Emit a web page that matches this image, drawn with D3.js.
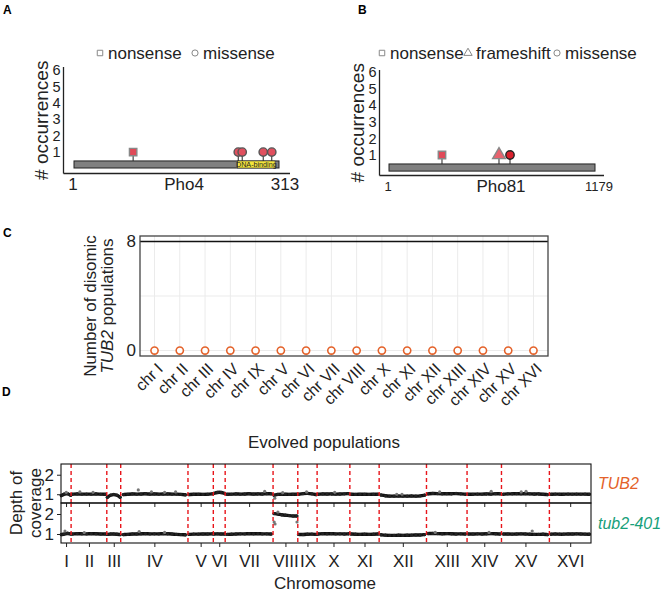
<!DOCTYPE html>
<html><head><meta charset="utf-8">
<script src="https://cdn.jsdelivr.net/npm/d3@7"></script>
<style>
html,body{margin:0;padding:0;background:#fff;}
svg{display:block;font-family:"Liberation Sans",Arial,Helvetica,sans-serif;}
</style></head>
<body>
<svg id="fig" width="664" height="604"></svg>
<script>
// ---------- Panel A data (Pho4) ----------
const pho4Length = 313;
const pho4Domain = [250, 307];           // DNA-binding domain
const pho4MutPos = [91, 251, 257, 289, 302];
const pho4MutType = ["nonsense", "missense", "missense", "missense", "missense"];
const pho4MutCount = [1, 1, 1, 1, 1];
const legendA = ["nonsense", "missense"];

// ---------- Panel B data (Pho81) ----------
const pho81Length = 1179;
const pho81MutPos = [304, 630, 693];
const pho81MutType = ["nonsense", "frameshift", "missense"];
const pho81MutCount = [1, 1, 1];
const legendB = ["nonsense", "frameshift", "missense"];

const occTicks = [1, 2, 3, 4, 5, 6];

// ---------- Panel C data ----------
const chrC = ["chr I","chr II","chr III","chr IV","chr IX","chr V","chr VI","chr VII",
              "chr VIII","chr X","chr XI","chr XII","chr XIII","chr XIV","chr XV","chr XVI"];
const disomicCounts = [0,0,0,0,0,0,0,0,0,0,0,0,0,0,0,0];
const totalPops = 8;
const cTicks = [0, 8];

// ---------- Panel D data ----------
const chrNames = ["I","II","III","IV","V","VI","VII","VIII","IX","X","XI","XII","XIII","XIV","XV","XVI"];
const chrLengthsKb = [230, 813, 317, 1532, 577, 270, 1091, 563, 440, 746, 667, 1078, 924, 784, 1091, 948];
const covTUB2 = [
  [0.93, 1.02, 1.03, 0.95],
  [1.0, 1.02, 1.0, 1.01, 1.0, 1.02, 1.0, 1.0],
  [0.84, 0.96, 0.99, 0.96, 0.84],
  [0.98, 1.0, 1.02, 1.0, 1.01, 1.03, 1.0, 1.02, 1.0, 1.01, 1.02, 1.0, 1.01, 0.99, 0.97],
  [0.98, 1.0, 1.0, 0.99, 1.0, 1.02],
  [1.04, 1.1, 1.1, 1.04],
  [1.0, 1.0, 1.02, 1.0, 1.01, 1.03, 1.0, 1.02, 1.01, 1.03, 1.02],
  [0.95, 1.0, 1.0, 1.0, 0.99, 1.0, 1.0],
  [1.0, 1.03, 1.05, 1.02, 0.98],
  [1.0, 1.02, 1.01, 1.02, 1.0, 1.01, 1.02, 1.03],
  [1.0, 0.99, 1.0, 1.0, 0.99, 1.0, 1.0],
  [0.96, 0.92, 0.9, 0.9, 0.91, 0.9, 0.9, 0.91, 0.9, 0.91, 0.95],
  [1.02, 1.04, 1.03, 1.02, 1.03, 1.02, 1.04, 1.02, 1.0],
  [1.0, 1.0, 1.01, 1.0, 1.02, 1.01, 1.03, 1.02],
  [1.0, 1.02, 1.02, 1.03, 1.02, 1.03, 1.02, 1.01, 1.02, 1.0, 0.98],
  [1.0, 1.01, 1.0, 1.0, 1.01, 1.0, 1.01, 1.0, 1.01, 1.0]
];
const cov401 = [
  [0.97, 1.0, 1.04, 1.0],
  [1.0, 1.02, 1.01, 1.0, 1.02, 1.01, 1.0, 1.0],
  [0.98, 1.0, 1.0, 0.99, 0.97],
  [0.97, 0.98, 1.0, 1.0, 1.01, 1.02, 1.0, 1.01, 1.0, 1.02, 1.01, 1.0, 0.98, 0.97, 0.96],
  [0.98, 1.0, 0.99, 1.0, 1.0, 1.01],
  [1.0, 1.01, 1.0, 1.0],
  [0.98, 0.99, 1.0, 1.01, 1.0, 1.02, 1.01, 1.02, 1.0, 1.01, 1.0],
  [2.02, 2.0, 1.96, 1.94, 1.92, 1.9, 1.9],
  [0.98, 0.97, 0.99, 1.0, 0.98],
  [1.0, 1.02, 1.01, 1.02, 1.0, 1.01, 1.0, 1.01],
  [1.0, 0.99, 0.98, 0.99, 0.98, 0.99, 1.0],
  [0.96, 0.94, 0.93, 0.93, 0.94, 0.93, 0.94, 0.94, 0.95, 0.95, 0.97],
  [1.02, 1.03, 1.02, 1.01, 1.02, 1.01, 1.0, 1.01, 1.0],
  [1.0, 1.0, 1.01, 1.0, 1.01, 1.02, 1.01, 1.0],
  [1.0, 1.0, 0.99, 1.0, 1.01, 1.0, 0.99, 0.98, 0.98, 0.99, 0.97],
  [0.99, 1.0, 0.99, 0.99, 1.0, 1.0, 1.01, 1.0, 0.99, 0.99]
];
// outliers: [chromosome, position within chromosome (kb), depth]
const outTUB2 = [["I",120,1.1],["II",200,1.12],["II",500,1.1],["IV",400,1.22],["IV",700,1.12],
  ["IV",1000,1.1],["IV",1250,1.12],["VII",900,1.15],["VIII",40,0.8],["VIII",220,1.08],
  ["IX",200,1.12],["X",400,1.1],["XII",400,1.0],["XII",520,1.0],["XIII",300,1.12],
  ["XIV",550,1.15],["XV",450,1.12],["XV",560,1.15]];
const out401 = [["I",90,1.15],["II",300,1.07],["IV",420,1.12],["IV",1000,1.08],
  ["VIII",25,1.6],["VIII",45,1.5],["VIII",545,1.6],["VIII",110,2.1],
  ["XIII",200,1.08],["XIV",500,1.08],["XV",700,1.15]];
const depthTicks = [1, 2];
const facetLabels = ["TUB2", "tub2-401"];

// ---------- drawing ----------
const svg = d3.select("#fig");
svg.append("rect").attr("width",664).attr("height",604).attr("fill","#fff");

const colOrange = "#e4622a", colGreen = "#17a07a";

function panelLabel(t, x, y){
  svg.append("text").attr("x",x).attr("y",y).attr("dy","0.35em")
    .attr("font-size",12).attr("font-weight","bold").text(t);
}
panelLabel("A",3,10); panelLabel("B",358,10); panelLabel("C",3,233); panelLabel("D",2,392);

function symbolFor(type, size){
  const s = type==="nonsense" ? d3.symbolSquare : type==="frameshift" ? d3.symbolTriangle : d3.symbolCircle;
  return d3.symbol().type(s).size(size)();
}

function legend(items, xs, y){
  items.forEach((it,i)=>{
    svg.append("path").attr("d", symbolFor(it, 30))
      .attr("transform",`translate(${xs[i]},${y})`)
      .attr("fill","#fff").attr("stroke","#888").attr("stroke-width",1);
    svg.append("text").attr("x",xs[i]+8).attr("y",y).attr("dy","0.35em")
      .attr("font-size",17).attr("fill","#222").text(it);
  });
}

function lollipop(opt){
  const {x0,x1,axisX,axisY,yTop,y0px,y6px,len,pos,types,counts,domain,labelFs,labelY,gene,geneX,markerFill,legendItems,legendX} = opt;
  const x = d3.scaleLinear().domain([1,len]).range([x0,x1]);
  const y = d3.scaleLinear().domain([0,6]).range([y0px,y6px]);
  svg.append("line").attr("x1",axisX).attr("x2",axisX).attr("y1",yTop).attr("y2",axisY)
    .attr("stroke","#222").attr("stroke-width",1.3);
  svg.append("line").attr("x1",axisX).attr("x2",opt.axisEnd).attr("y1",axisY).attr("y2",axisY)
    .attr("stroke","#222").attr("stroke-width",1.3);
  const ax = svg.append("g").attr("transform",`translate(${axisX-3},0)`)
    .call(d3.axisLeft(y).tickValues(occTicks).tickSize(0).tickPadding(0).tickFormat(d3.format("d")));
  ax.select(".domain").remove();
  ax.selectAll("text").attr("font-size",14.5).attr("fill","#222").attr("font-family","Liberation Sans, Arial, sans-serif")
    .attr("transform","scale(1.2,1.2)").attr("transform",null);
  svg.append("text").attr("transform",`translate(${axisX-22},${(yTop+axisY)/2}) rotate(-90)`)
    .attr("text-anchor","middle").attr("dy","0.35em").attr("font-size",19).attr("fill","#222").text("# occurrences");
  svg.append("rect").attr("x",x(1)).attr("width",x(len)-x(1))
    .attr("y",y(0.46)).attr("height",y(0.03)-y(0.46))
    .attr("fill","#808080").attr("stroke","#222").attr("stroke-width",1);
  if(domain){
    svg.append("rect").attr("x",x(domain[0])).attr("width",x(domain[1])-x(domain[0]))
      .attr("y",y(0.46)).attr("height",y(0.03)-y(0.46))
      .attr("fill","#f5e63c").attr("stroke","#333").attr("stroke-width",0.6);
    svg.append("text").attr("x",(x(domain[0])+x(domain[1]))/2).attr("y",(y(0.46)+y(0.03))/2)
      .attr("dy","0.35em").attr("text-anchor","middle").attr("font-size",7.2).attr("fill","#222").text("DNA-binding");
  }
  pos.forEach((p,i)=>{
    svg.append("line").attr("x1",x(p)).attr("x2",x(p)).attr("y1",y(0.46)).attr("y2",y(counts[i]))
      .attr("stroke","#222").attr("stroke-width",1);
  });
  pos.forEach((p,i)=>{
    const t = types[i];
    svg.append("path").attr("d",symbolFor(t, t==="frameshift"?70:55))
      .attr("transform",`translate(${x(p)},${y(counts[i])})`)
      .attr("fill",markerFill[i]).attr("stroke",opt.markerStroke[i]).attr("stroke-width",1.4);
  });
  svg.append("text").attr("x",x(1)-1).attr("y",labelY).attr("dy","0.35em").attr("text-anchor","middle")
    .attr("font-size",labelFs).attr("fill","#222").text("1");
  svg.append("text").attr("x",x(len)+opt.endShift).attr("y",labelY).attr("dy","0.35em").attr("text-anchor","middle")
    .attr("font-size",labelFs).attr("fill","#222").text(String(len));
  svg.append("text").attr("x",geneX).attr("y",labelY).attr("dy","0.35em").attr("text-anchor","middle")
    .attr("font-size",17).attr("fill","#222").text(gene);
  legend(legendItems, legendX, 53);
}

lollipop({x0:74,x1:279,axisX:63.5,axisY:173.5,axisEnd:290,yTop:67,y0px:168.5,y6px:70,
  len:pho4Length,pos:pho4MutPos,types:pho4MutType,counts:pho4MutCount,domain:pho4Domain,
  labelFs:17,labelY:184,gene:"Pho4",geneX:184,endShift:6,
  markerFill:["#e04a58","#e0505e","#e0505e","#e0505e","#e0505e"],
  markerStroke:["#888","#555","#555","#555","#555"],
  legendItems:legendA,legendX:[100,195]});

lollipop({x0:389,x1:595,axisX:379.5,axisY:175.5,axisEnd:604,yTop:70,y0px:171.6,y6px:72,
  len:pho81Length,pos:pho81MutPos,types:pho81MutType,counts:pho81MutCount,domain:null,
  labelFs:13,labelY:186,gene:"Pho81",geneX:501,endShift:4,
  markerFill:["#e04a58","#e8636e","#d9202c"],
  markerStroke:["#888","#888","#222"],
  legendItems:legendB,legendX:[382,468,557]});

// ---------- Panel C ----------
(function(){
  const L=140,R=548,T=236,B=356;
  const x = d3.scalePoint().domain(chrC).range([L,R]).padding(0.575);
  const y = d3.scaleLinear().domain([-0.4,8.4]).range([B,T]);
  const g = svg.append("g");
  g.selectAll(".vg").data(chrC).enter().append("line")
    .attr("x1",d=>x(d)).attr("x2",d=>x(d)).attr("y1",T).attr("y2",B)
    .attr("stroke","#ebebeb").attr("stroke-width",1);
  g.selectAll(".hg").data([0,4,8]).enter().append("line")
    .attr("x1",L).attr("x2",R).attr("y1",d=>y(d)).attr("y2",d=>y(d))
    .attr("stroke","#ebebeb").attr("stroke-width",1);
  g.append("line").attr("x1",L).attr("x2",R).attr("y1",y(totalPops)).attr("y2",y(totalPops))
    .attr("stroke","#111").attr("stroke-width",1.5);
  g.append("rect").attr("x",L).attr("y",T).attr("width",R-L).attr("height",B-T)
    .attr("fill","none").attr("stroke","#444").attr("stroke-width",1.3);
  g.selectAll(".pt").data(chrC).enter().append("circle")
    .attr("cx",d=>x(d)).attr("cy",(d,i)=>y(disomicCounts[i])).attr("r",3.6)
    .attr("fill","#fff").attr("stroke",colOrange).attr("stroke-width",1.6);
  const ay = svg.append("g").attr("transform",`translate(${L-4},0)`)
    .call(d3.axisLeft(y).tickValues(cTicks).tickSize(0).tickPadding(0).tickFormat(d3.format("d")));
  ay.select(".domain").remove();
  ay.selectAll("text").attr("font-size",17).attr("fill","#222").attr("font-family","Liberation Sans, Arial, sans-serif");
  const ax = svg.append("g").attr("transform",`translate(0,${B})`)
    .call(d3.axisBottom(x).tickSize(0).tickPadding(0));
  ax.select(".domain").remove();
  ax.selectAll("text").attr("font-size",16).attr("fill","#222").attr("font-family","Liberation Sans, Arial, sans-serif")
    .attr("text-anchor","end").attr("dy",null).attr("y",null)
    .attr("transform","translate(1,6) rotate(-45)").attr("dominant-baseline","hanging");
  const t = svg.append("text").attr("transform",`translate(90,306) rotate(-90)`).attr("text-anchor","middle")
    .attr("font-size",17).attr("fill","#222");
  t.append("tspan").attr("x",0).attr("dy","0.35em").text("Number of disomic");
  const t2 = svg.append("text").attr("transform",`translate(107,306) rotate(-90)`).attr("text-anchor","middle")
    .attr("font-size",17).attr("fill","#222").attr("dy","0.35em");
  t2.append("tspan").attr("font-style","italic").text("TUB2");
  t2.append("tspan").text(" populations");
})();

// ---------- Panel D ----------
(function(){
  const L=61,R=591;
  const starts = []; let acc=0;
  chrLengthsKb.forEach(l=>{starts.push(acc); acc+=l;});
  const total = acc;
  const x = d3.scaleLinear().domain([0,total]).range([L,R]);
  const facets = [{T:464,B:503,cov:covTUB2,out:outTUB2,label:facetLabels[0],col:colOrange},
                  {T:503,B:543,cov:cov401,out:out401,label:facetLabels[1],col:colGreen}];
  svg.append("text").attr("x",324).attr("y",442).attr("dy","0.35em").attr("text-anchor","middle")
    .attr("font-size",17).attr("fill","#222").text("Evolved populations");
  facets.forEach((f,fi)=>{
    const y = d3.scaleLinear().domain([0.55,2.55]).range([f.B,f.T]);
    const g = svg.append("g");
    f.cov.forEach((vals,ci)=>{
      const n = vals.length, s = starts[ci], l = chrLengthsKb[ci];
      const pts = vals.map((v,i)=>[x(s + l*(0.04 + 0.92*i/(n-1))), y(v)]);
      g.append("path").attr("d", d3.line().curve(d3.curveBasis)(pts))
        .attr("fill","none").attr("stroke","#111").attr("stroke-width",3.4).attr("stroke-linecap","round");
      g.selectAll(null).data(pts).enter().append("circle")
        .attr("cx",d=>d[0]).attr("cy",d=>d[1]).attr("r",1.6).attr("fill","#222");
    });
    g.selectAll(".o").data(f.out).enter().append("circle")
      .attr("cx",d=>x(starts[chrNames.indexOf(d[0])]+d[1])).attr("cy",d=>y(d[2]))
      .attr("r",1.6).attr("fill","#777");
    g.selectAll(".b").data(starts.slice(1)).enter().append("line")
      .attr("x1",d=>x(d)).attr("x2",d=>x(d)).attr("y1",f.T).attr("y2",f.B)
      .attr("stroke","#e8151b").attr("stroke-width",1.4).attr("stroke-dasharray","4,3");
    g.append("rect").attr("x",L).attr("y",f.T).attr("width",R-L).attr("height",f.B-f.T)
      .attr("fill","none").attr("stroke","#111").attr("stroke-width",1.1);
    const ay = svg.append("g").attr("transform",`translate(${L},0)`)
      .call(d3.axisLeft(y).tickValues(depthTicks).tickSize(4).tickPadding(3).tickFormat(d3.format("d")));
    ay.select(".domain").remove();
    ay.selectAll("line").attr("stroke","#222");
    ay.selectAll("text").attr("font-size",17).attr("fill","#222").attr("font-family","Liberation Sans, Arial, sans-serif");
    const centers = chrNames.map((c,i)=>starts[i]+chrLengthsKb[i]/2);
    const axx = svg.append("g").attr("transform",`translate(0,${f.B})`)
      .call(d3.axisBottom(x).tickValues(centers).tickSize(4).tickFormat((d,i)=>chrNames[i]).tickPadding(8));
    axx.select(".domain").remove();
    axx.selectAll("line").attr("stroke","#222");
    axx.selectAll("text").attr("font-size",17).attr("fill","#222").attr("font-family","Liberation Sans, Arial, sans-serif");
    if(fi===0) axx.selectAll("text").remove();
    svg.append("text").attr("x",598).attr("y",(f.T+f.B)/2).attr("dy","0.35em")
      .attr("font-size",16).attr("font-style","italic").attr("fill",f.col).text(f.label);
  });
  svg.append("text").attr("transform","translate(16,503) rotate(-90)").attr("text-anchor","middle")
    .attr("dy","0.35em").attr("font-size",17).attr("fill","#222").text("Depth of");
  svg.append("text").attr("transform","translate(35,503) rotate(-90)").attr("text-anchor","middle")
    .attr("dy","0.35em").attr("font-size",17).attr("fill","#222").text("coverage");
  svg.append("text").attr("x",325).attr("y",583).attr("dy","0.35em").attr("text-anchor","middle")
    .attr("font-size",17).attr("fill","#222").text("Chromosome");
})();
</script>
</body></html>
